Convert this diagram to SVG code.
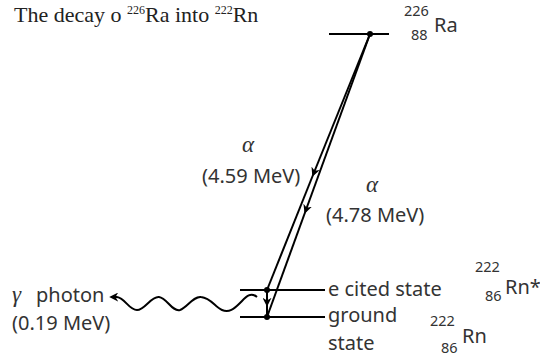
<svg xmlns="http://www.w3.org/2000/svg" width="540" height="358" viewBox="0 0 540 358">
<style>
.t{font-family:"Noto Sans","DejaVu Sans",sans-serif;font-size:20px;fill:#333}
.s{font-family:"Noto Sans","DejaVu Sans",sans-serif;font-size:14.5px;fill:#333}
.ttl{font-family:"Liberation Serif","DejaVu Serif",serif;font-size:22px;fill:#222}
.sup{font-size:12px}
.g{font-family:"Liberation Serif","DejaVu Serif",serif;font-style:italic;font-size:23px;fill:#333}
.ln{stroke:#000;stroke-width:2;fill:none}
</style>
<defs>
<marker id="ah" viewBox="0 0 10 10" refX="8" refY="5" markerWidth="9" markerHeight="9" orient="auto" markerUnits="userSpaceOnUse">
<path d="M0,0 L10,5 L0,10 L3,5 Z" fill="#000"/>
</marker>
</defs>
<text class="ttl" x="14" y="22">The decay o  <tspan class="sup" dy="-8">226</tspan><tspan dy="8">Ra into </tspan><tspan class="sup" dy="-8">222</tspan><tspan dy="8">Rn</tspan></text>
<g id="ra">
<line class="ln" x1="329" y1="34" x2="389" y2="34"/>
<circle cx="370" cy="34" r="3"/>
<text class="s" x="404" y="16">226</text>
<text class="s" x="411" y="40">88</text>
<text class="t" x="434" y="32">Ra</text>
</g>
<g id="excited">
<line class="ln" x1="240" y1="290" x2="325" y2="290"/>
<circle cx="267" cy="290" r="3"/>
<text class="t" x="328" y="296">e  cited state</text>
<text class="s" x="475" y="272">222</text>
<text class="s" x="485" y="301">86</text>
<text class="t" x="505" y="294">Rn*</text>
</g>
<g id="ground">
<line class="ln" x1="240" y1="317" x2="325" y2="317"/>
<circle cx="267" cy="317" r="3"/>
<text class="t" x="328" y="322">ground</text>
<text class="t" x="328" y="350">state</text>
<text class="s" x="430" y="326">222</text>
<text class="s" x="441" y="353">86</text>
<text class="t" x="462" y="343">Rn</text>
</g>
<g id="photon">
<text class="g" x="12" y="302">γ</text>
<text class="t" x="36" y="302">photon</text>
<text class="t" x="12" y="330">(0.19 MeV)</text>
</g>
<g id="alpha1">
<text class="g" x="242" y="152">α</text>
<text class="t" x="202" y="183">(4.59 MeV)</text>
</g>
<g id="alpha2">
<text class="g" x="366" y="192">α</text>
<text class="t" x="326" y="222">(4.78 MeV)</text>
</g>
<g id="connectors">
<path class="ln" d="M370,34 L313,175" marker-end="url(#ah)"/>
<path class="ln" d="M313,175 L267,290"/>
<path class="ln" d="M370,34 L305.2,212" marker-end="url(#ah)"/>
<path class="ln" d="M305.2,212 L267,317"/>
<path class="ln" d="M267,290 L267,305" marker-end="url(#ah)"/>
<path class="ln" d="M267,305 L267,317"/>
<path class="ln" d="M257,297 C250,291 245,298 240,303 C234,309 229,313 222,310 C215,307 211,298 201,297 C193,296 187,308 180,310 C172,312 167,298 159,297 C151,296 145,310 137,310 C129,310 125,298 117,297" />
<path class="ln" d="M117,297 L111,297" marker-end="url(#ah)"/>
</g>
</svg>
